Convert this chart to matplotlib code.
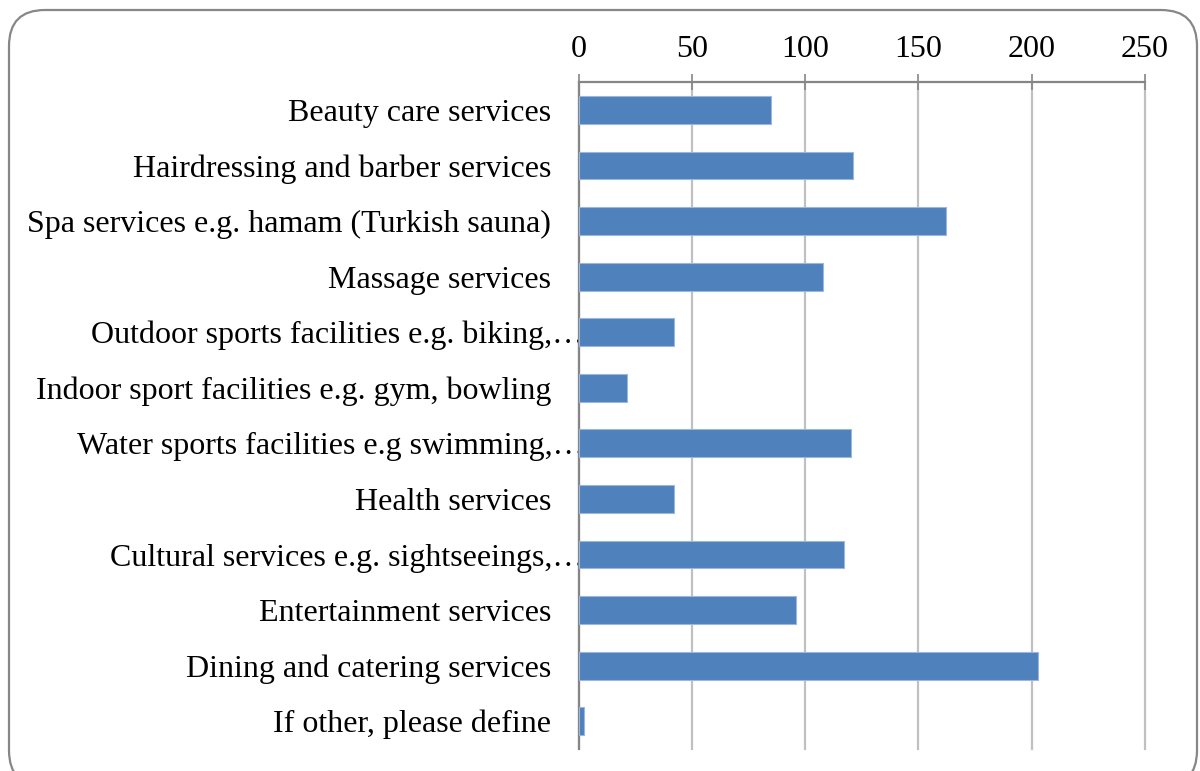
import matplotlib
matplotlib.use("Agg")
import matplotlib.pyplot as plt
from matplotlib.patches import FancyBboxPatch
from matplotlib.transforms import ScaledTranslation

# 数据
categories = [
    "Beauty care services",
    "Hairdressing and barber services",
    "Spa services e.g. hamam (Turkish sauna)",
    "Massage services",
    "Outdoor sports facilities e.g. biking,…",
    "Indoor sport facilities e.g. gym, bowling",
    "Water sports facilities e.g swimming,…",
    "Health services",
    "Cultural services e.g. sightseeings,…",
    "Entertainment services",
    "Dining and catering services",
    "If other, please define",
]
values = [85, 121, 162, 108, 42, 21, 120, 42, 117, 96, 203, 2]
x_ticks = [0, 50, 100, 150, 200, 250]

plt.rcParams['font.family'] = ['Liberation Serif', 'DejaVu Serif']

fig = plt.figure(figsize=(12, 7.71), dpi=100)
ax = fig.add_axes([0.4825, 0.0285, 0.954 - 0.4825, 0.8935 - 0.0285])

# 外框（圆角）
frame = FancyBboxPatch((9 / 1200, -0.02), (1197 - 9) / 1200, 1 - 10 / 771 + 0.02,
                       boxstyle="round,pad=0,rounding_size=0.03",
                       transform=fig.transFigure, facecolor='none',
                       edgecolor='#878787', linewidth=1.6, zorder=0,
                       mutation_aspect=1200 / 771)
fig.patches.append(frame)

y = list(range(len(categories)))
ax.barh(y, values, height=0.5, color='#4F81BD', edgecolor='#9BB7DB',
        linewidth=0.8, zorder=3)

ax.set_ylim(len(categories) - 0.5, -0.5)
ax.set_xlim(0, 250)
ax.set_xticks(x_ticks)
ax.set_yticks(y)
ax.set_yticklabels(categories)

ax.xaxis.tick_top()
ax.tick_params(axis='x', direction='inout', length=12, width=1.2,
               color='#868686', labelsize=23, pad=7)
ax.tick_params(axis='y', length=0, labelsize=23, pad=20)

# 截断的标签，省略号压到轴线上
for lbl in ax.get_yticklabels():
    if lbl.get_text().endswith('…'):
        lbl.set_transform(lbl.get_transform() +
                          ScaledTranslation(0.33, 0, fig.dpi_scale_trans))

ax.grid(axis='x', color='#C0C0C0', linewidth=1.6, zorder=0)
for gl in ax.get_xgridlines():
    gl.set_clip_on(False)
ax.set_axisbelow(True)

for side in ['right', 'bottom']:
    ax.spines[side].set_visible(False)
ax.spines['top'].set_color('#868686')
ax.spines['top'].set_linewidth(1.6)
ax.spines['left'].set_color('#868686')
ax.spines['left'].set_linewidth(1.6)

plt.savefig('out.png', dpi=100)
